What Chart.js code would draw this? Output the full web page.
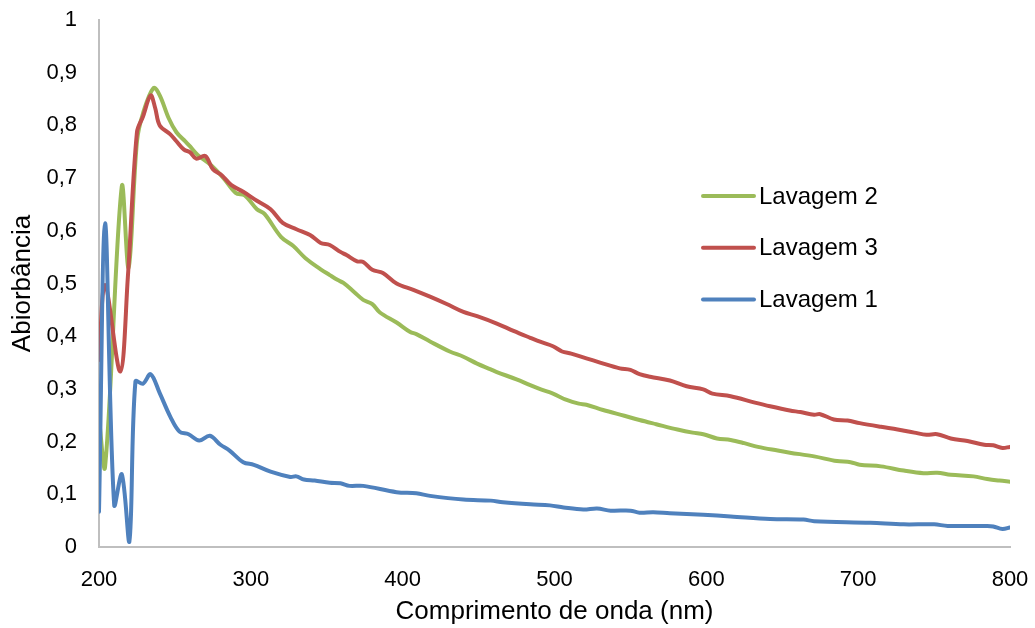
<!DOCTYPE html>
<html>
<head>
<meta charset="utf-8">
<script src="https://cdn.jsdelivr.net/npm/chart.js@4"></script>
<style>
    body { margin: 0; background: #fff; }
    #wrap { width: 1035px; height: 628px; position: relative; }
</style>
</head>
<body>
<div id="wrap"><canvas id="spectrum-chart"></canvas></div>
<script>
// wavelengths (nm) and absorbance, one pair of arrays per wash
const wlLavagem1 = [200, 204, 210, 215, 220, 224, 229, 234, 240, 247, 253, 259, 266, 273, 280, 286, 295, 302, 313, 326, 330, 335, 342,
    352, 359, 365, 374, 396, 409, 418, 440, 458, 466, 484, 497, 506, 519, 528, 537, 550, 556, 565, 576, 598, 616, 642, 664, 671,
    708, 730, 750, 759, 785, 789, 795, 800];
const absLavagem1 = [0.067, 0.614, 0.080, 0.138, 0.010, 0.314, 0.310, 0.328, 0.292, 0.247, 0.219, 0.214, 0.202, 0.211, 0.194, 0.183, 0.161, 0.156, 0.143, 0.133, 0.134, 0.128, 0.126,
    0.122, 0.121, 0.116, 0.116, 0.104, 0.102, 0.097, 0.090, 0.088, 0.085, 0.081, 0.079, 0.075, 0.071, 0.073, 0.069, 0.069, 0.065, 0.066, 0.064, 0.061, 0.058, 0.053, 0.052, 0.049,
    0.046, 0.043, 0.043, 0.040, 0.040, 0.039, 0.034, 0.037];

const wlLavagem2 = [200, 204, 215, 219.5, 225, 229, 236, 240, 246, 251, 257, 260, 265, 274, 282, 290, 296, 304, 309, 320, 328, 336, 346,
    352, 357, 361, 368, 374, 380, 385, 396, 405, 409, 418, 431, 440, 449, 458, 462, 475, 484, 491, 499, 508, 516, 521, 532, 546,
    556, 567, 581, 591, 598, 607, 616, 625, 634, 647, 655, 671, 686, 695, 701, 715, 730, 743, 752, 761, 776, 785, 793, 800];
const absLavagem2 = [0.244, 0.152, 0.684, 0.530, 0.770, 0.823, 0.871, 0.857, 0.813, 0.787, 0.769, 0.760, 0.744, 0.724, 0.700, 0.672, 0.667, 0.641, 0.632, 0.588, 0.571, 0.548, 0.527,
    0.516, 0.507, 0.501, 0.484, 0.469, 0.461, 0.445, 0.426, 0.408, 0.404, 0.390, 0.371, 0.361, 0.348, 0.337, 0.332, 0.318, 0.307, 0.299, 0.291, 0.279, 0.272, 0.270, 0.260, 0.249,
    0.241, 0.233, 0.223, 0.217, 0.214, 0.206, 0.203, 0.197, 0.190, 0.183, 0.179, 0.172, 0.163, 0.161, 0.156, 0.153, 0.145, 0.140, 0.141, 0.137, 0.134, 0.129, 0.126, 0.124];

const wlLavagem3 = [200, 204, 214, 219, 225, 229, 234, 237, 240, 247, 251, 256, 260, 264, 270, 275, 281, 287, 295, 304, 313, 321, 330, 339, 346,
    352, 359, 363, 370, 374, 380, 387, 396, 407, 418, 429, 440, 449, 462, 473, 484, 491, 499, 505, 511, 521, 530, 543, 550, 556, 563, 576,
    587, 598, 604, 616, 632, 642, 655, 662, 671, 675, 684, 693, 701, 715, 726, 737, 745, 752, 761, 772, 783, 789, 795, 800];
const absLavagem3 = [0.355, 0.497, 0.333, 0.512, 0.787, 0.817, 0.857, 0.833, 0.800, 0.783, 0.770, 0.754, 0.749, 0.737, 0.742, 0.717, 0.705, 0.687, 0.674, 0.657, 0.641, 0.615, 0.603, 0.592, 0.577,
    0.573, 0.560, 0.554, 0.542, 0.541, 0.526, 0.520, 0.500, 0.488, 0.475, 0.461, 0.446, 0.438, 0.424, 0.410, 0.397, 0.389, 0.381, 0.371, 0.367, 0.358, 0.350, 0.339, 0.336, 0.328, 0.323, 0.316,
    0.305, 0.299, 0.291, 0.286, 0.274, 0.267, 0.259, 0.256, 0.251, 0.252, 0.242, 0.240, 0.235, 0.228, 0.223, 0.217, 0.213, 0.214, 0.206, 0.201, 0.194, 0.193, 0.188, 0.190];

const seriesNames = ['Lavagem 2', 'Lavagem 3', 'Lavagem 1'];
const xTicks = [200, 300, 400, 500, 600, 700, 800];

const toPoints = (xs, ys) => xs.map((x, i) => ({x: x, y: ys[i]}));
const fontFamily = '"Liberation Sans", Arial, sans-serif';

const lineStyle = (color, order) => ({
    borderColor: color,
    backgroundColor: color,
    borderWidth: 4,
    borderCapStyle: 'round',
    borderJoinStyle: 'round',
    pointRadius: 0,
    tension: 0.35,
    fill: false,
    order: order
});

// legend drawn by hand inside the plot, like the original
const insideLegend = {
    id: 'insideLegend',
    afterDraw: (chart) => {
        const ctx = chart.ctx;
        ctx.save();
        ctx.font = '24px ' + fontFamily;
        ctx.textBaseline = 'middle';
        ctx.textAlign = 'left';
        chart.data.datasets.forEach((ds, i) => {
            const y = 196 + i * 51.7;
            ctx.strokeStyle = ds.borderColor;
            ctx.lineWidth = 4;
            ctx.lineCap = 'round';
            ctx.beginPath();
            ctx.moveTo(703, y);
            ctx.lineTo(754, y);
            ctx.stroke();
            ctx.fillStyle = '#000';
            ctx.fillText(ds.label, 759, y + 1);
        });
        ctx.restore();
    }
};

const commaTick = (v) => {
    const r = Math.round(v * 10) / 10;
    return Number.isInteger(r) ? String(r) : r.toFixed(1).replace('.', ',');
};

let config = {
    type: 'line',
    data: {
        datasets: [
            Object.assign({label: seriesNames[0], data: toPoints(wlLavagem2, absLavagem2)}, lineStyle('#9BBB59', 2)),
            Object.assign({label: seriesNames[1], data: toPoints(wlLavagem3, absLavagem3)}, lineStyle('#C0504D', 1)),
            Object.assign({label: seriesNames[2], data: toPoints(wlLavagem1, absLavagem1)}, lineStyle('#4F81BD', 0))
        ]
    },
    options: {
        responsive: true,
        maintainAspectRatio: false,
        animation: false,
        layout: {padding: {top: 20, right: 25, left: 0, bottom: 0}},
        plugins: {
            legend: {display: false},
            tooltip: {enabled: false}
        },
        scales: {
            x: {
                type: 'linear',
                min: 200,
                max: 800,
                afterBuildTicks: (scale) => { scale.ticks = xTicks.map(v => ({value: v})); },
                afterFit: (scale) => {
                    scale.height = 81;
                    scale.paddingLeft = 0;
                    scale.paddingRight = 0;
                },
                grid: {display: false},
                border: {display: true, color: '#BFBFBF', width: 2},
                ticks: {
                    color: '#000',
                    padding: 12,
                    maxRotation: 0,
                    font: {family: fontFamily, size: 22}
                },
                title: {
                    display: true,
                    text: 'Comprimento de onda (nm)',
                    color: '#000',
                    padding: {top: 0, bottom: 1},
                    font: {family: fontFamily, size: 26}
                }
            },
            y: {
                min: 0,
                max: 1,
                afterFit: (scale) => {
                    scale.width = 99;
                    scale.paddingTop = 0;
                    scale.paddingBottom = 0;
                },
                grid: {display: false},
                border: {display: true, color: '#BFBFBF', width: 2},
                ticks: {
                    stepSize: 0.1,
                    color: '#000',
                    padding: 14,
                    callback: commaTick,
                    font: {family: fontFamily, size: 22}
                },
                title: {
                    display: true,
                    text: 'Abiorbância',
                    color: '#000',
                    padding: {top: 7, bottom: 0},
                    font: {family: fontFamily, size: 26}
                }
            }
        }
    },
    plugins: [insideLegend]
};

const spectrumChart = new Chart(document.getElementById('spectrum-chart'), config);
</script>
</body>
</html>
